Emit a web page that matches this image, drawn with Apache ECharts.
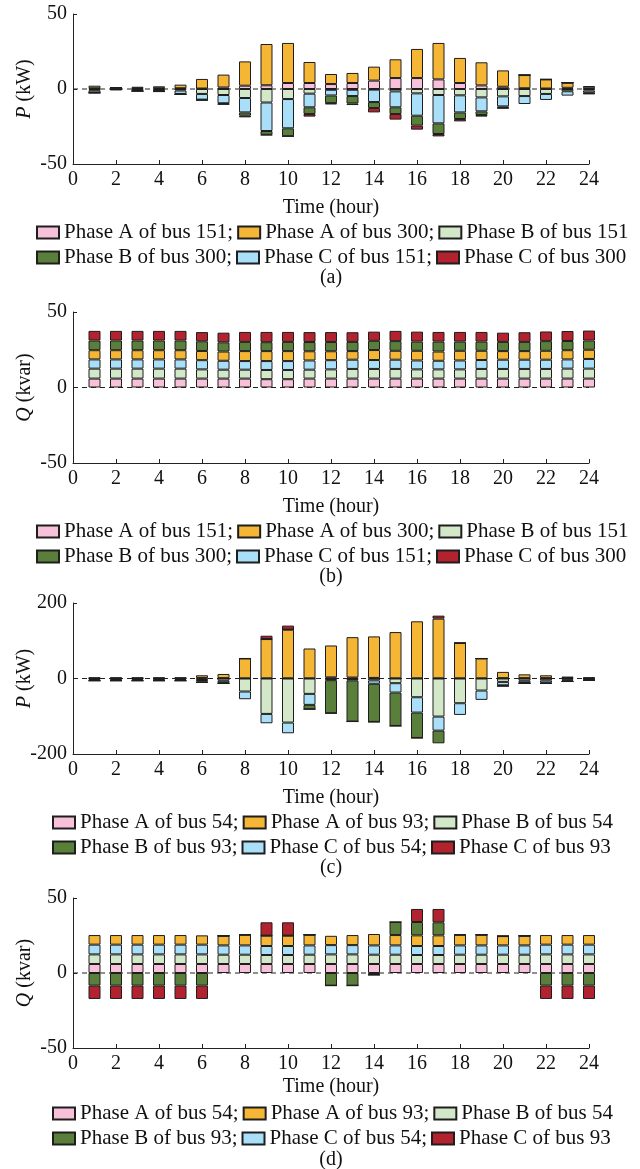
<!DOCTYPE html>
<html>
<head>
<meta charset="utf-8">
<script src="https://cdn.jsdelivr.net/npm/echarts@6/dist/echarts.min.js"></script>
<style>
  html, body { margin: 0; padding: 0; background: #fff; }
  #chart { width: 640px; height: 1169px; }
</style>
</head>
<body>
<div id="chart"></div>
<script>
// x categories: hour 0 is only an axis position, bars sit at hours 1..24
const hourLabels = ['0', '1', '2', '3', '4', '5', '6', '7', '8', '9', '10', '11', '12', '13', '14', '15', '16', '17', '18', '19', '20', '21', '22', '23', '24']

// (a) active power, buses 151 / 300 (kW), hours 1..24
const aA151 = [0.5, 0.2, 0.5, 0.5, 0.5, 0.3, 1, 2.2, 2.5, 4, 4, 3.3, 4, 5.6, 7.3, 7.3, 6.4, 4, 2.4, 1.5, 0.5, 0.3, 0.8, 0.5]
const aB151 = [-0.8, -0.3, -0.5, -0.6, -1, -3.3, -4, -6, -9, -6.7, -3.1, -0.5, -0.5, -0.4, -1.6, -2.9, -4, -4.2, -5.6, -4.9, -4.7, -3.3, -1.5, -1]
const aC151 = [-1.5, -0.4, -0.7, -0.8, -2.3, -3.8, -5.5, -9.6, -19, -19.5, -9.1, -3.8, -4.2, -8.3, -10.6, -14.9, -18.9, -11.4, -9.3, -6.7, -5.3, -4, -2.9, -1.5]
const aA300 = [1.7, 0.8, 1, 1.3, 2.4, 6.4, 8.6, 16.2, 27.5, 26.7, 14, 6.7, 6.7, 9.3, 12.5, 19.4, 24.3, 16.7, 15.4, 10.9, 8.8, 6.1, 3.4, 1.5]
const aB300 = [-0.3, 0, -0.2, -0.3, -0.3, -0.3, -0.5, -2.2, -2.5, -5.3, -4.5, -5.1, -4.9, -4, -4.5, -6.6, -7.1, -4.4, -2.4, -1, 0, 0, 0, -0.5]
const aC300 = [0, 0, 0, 0, 0, 0, -0.3, -1.1, -0.3, 0, -1.7, -0.9, -1.1, -2.9, -3.7, -2.7, -1.6, -1.6, -1.1, -0.3, 0, 0, 0, -0.3]

// (b) reactive power, buses 151 / 300 (kvar)
const bA151 = [5.9, 5.9, 5.9, 5.9, 5.9, 5.9, 5.9, 5.9, 5.5, 5.5, 5.9, 5.9, 5.9, 5.9, 5.9, 5.9, 5.9, 5.9, 5.9, 5.9, 5.9, 5.9, 5.9, 5.9]
const bB151 = [6.6, 6.6, 6.6, 6.6, 6.6, 6.1, 5.9, 5.9, 6.1, 6.1, 5.9, 6.1, 6.4, 6.4, 6.4, 6.1, 6.1, 6.1, 6.4, 6.4, 6.4, 6.4, 6.6, 6.6]
const bC151 = [6.1, 6.1, 6.1, 6.1, 6.1, 6.1, 5.9, 5.7, 5.9, 5.9, 6.1, 6.1, 6.1, 5.9, 6.1, 5.9, 5.7, 5.9, 5.9, 6.1, 6.1, 6.1, 6.1, 6.4]
const bA300 = [6.1, 6.1, 6.1, 6.1, 6.1, 6.1, 6.1, 6.6, 6.6, 6.6, 6.1, 5.9, 5.7, 6.6, 5.9, 6.4, 6.1, 6.4, 6.1, 5.7, 5.7, 5.9, 6.1, 6.1]
const bB300 = [6.4, 6.4, 6.4, 6.4, 6.4, 6.4, 6.1, 6.1, 5.9, 6.1, 6.1, 6.1, 6.1, 6.1, 6.4, 6.1, 6.6, 6.1, 6.1, 6.1, 6.1, 6.4, 6.1, 6.1]
const bC300 = [6.4, 6.4, 6.4, 6.4, 6.4, 6.1, 6.4, 6.6, 6.8, 6.6, 6.6, 6.6, 6.4, 6.1, 6.8, 6.6, 6.4, 6.4, 6.4, 6.1, 6.4, 6.4, 6.6, 6.6]

// (c) active power, buses 54 / 93 (kW)
const cA54 = [0.8, 0.8, 0.8, 0.8, 0.8, 1.5, 1, 0.5, 0.5, 0.5, 0.5, 3, 2.5, 1.5, 0.5, 0.5, 0.5, 0.5, 0.5, 1, 1, 1, 1.5, 1]
const cB54 = [-2, -2, -2, -2, -2, -4, -6, -34.5, -93.8, -116.8, -40.7, -2, -1.5, -5, -12.4, -49.6, -100.9, -65.5, -31.9, -9, -6, -5, -3, -2]
const cC54 = [-2.5, -2.5, -2.5, -2.5, -2.5, -4, -5.5, -20.4, -24.8, -28.3, -29.2, -2.5, -3.5, -9, -24.8, -40.7, -37.2, -31, -24.7, -9, -6, -6, -3, -2]
const cA93 = [1.6, 1.6, 1.6, 1.6, 1.6, 7, 11, 52.5, 104, 129, 79, 84.5, 107, 110, 122.5, 151, 158, 93.5, 52.5, 16.5, 10, 7.5, 3.5, 1.6]
const cB93 = [-1.5, -1.5, -1.5, -1.5, -1.5, -2.5, -1.5, 0, 0, 0, -11.5, -87.5, -109, -101, -88.5, -67.2, -33.6, 0, 0, -2, -1, -2, -2, -1.3]
const cC93 = [0, 0, 0, 0, 0, 0, 0, 0, 8.8, 10.6, 0, 0, 0, 0, 0, 0, 8, 0, 0, 0, 0, 0, 0, 0]

// (d) reactive power, buses 54 / 93 (kvar)
const dA54 = [6, 6, 6, 6, 6, 6, 6, 6, 6, 6, 6, 6, 6, 6, 6, 6, 6, 6, 6, 6, 6, 6, 6, 6]
const dB54 = [6.4, 6.4, 6.4, 6.4, 6.4, 6.4, 6.2, 6.2, 6, 6, 6.2, 6.4, 6.4, 6.2, 6.2, 6, 6, 6.2, 6.2, 6.2, 6.2, 6.4, 6.4, 6.4]
const dC54 = [6.5, 6.5, 6.5, 6.5, 6.5, 6.5, 6.2, 6.2, 6, 6, 6.2, 6.2, 6.2, 6.2, 6.2, 6, 6, 6.2, 6.2, 6.2, 6.2, 6.5, 6.5, 6.5]
const dA93 = [6.4, 6.4, 6.4, 6.4, 6.4, 6.2, 6.4, 7.1, 6.9, 6.9, 7.1, 6.2, 6.7, 7.6, 6.9, 7.1, 7.1, 7.1, 7.1, 6.2, 6.4, 6.4, 6.4, 6.4]
const dB93 = [-8.4, -8.4, -8.4, -8.4, -8.4, -8.4, 0, 0, 0, 0, 0, -8.4, -8.4, -1.3, 8.7, 8.9, 8.7, 0, 0, 0, 0, -8.4, -8.4, -8.4]
const dC93 = [-8.9, -8.9, -8.9, -8.9, -8.9, -8.9, 0, 0, 8.9, 8.9, 0, 0, 0, 0, 0, 8.7, 8.9, 0, 0, 0, 0, -8.9, -8.9, -8.9]

const FONT = '"Liberation Serif", "Times New Roman", serif'
const PINK = '#f7c1d9'
const ORANGE = '#f5b535'
const LGREEN = '#d2e8c9'
const DGREEN = '#5a7f3a'
const LBLUE = '#a9dff8'
const RED = '#b3222f'
const EDGE = '#1e1e1e'

// one entry per subplot, series listed in stacking order
const panels = [
  {
    top: 14, height: 150, range: 50, yName: 'P', unit: ' (kW)', tag: '(a)', legendLeft: 31,
    series: [
      ['Phase A of bus 151;', PINK, aA151],
      ['Phase B of bus 151', LGREEN, aB151],
      ['Phase C of bus 151;', LBLUE, aC151],
      ['Phase A of bus 300;', ORANGE, aA300],
      ['Phase B of bus 300;', DGREEN, aB300],
      ['Phase C of bus 300', RED, aC300],
    ],
  },
  {
    top: 312, height: 151, range: 50, yName: 'Q', unit: ' (kvar)', tag: '(b)', legendLeft: 31,
    series: [
      ['Phase A of bus 151;', PINK, bA151],
      ['Phase B of bus 151', LGREEN, bB151],
      ['Phase C of bus 151;', LBLUE, bC151],
      ['Phase A of bus 300;', ORANGE, bA300],
      ['Phase B of bus 300;', DGREEN, bB300],
      ['Phase C of bus 300', RED, bC300],
    ],
  },
  {
    top: 603, height: 151, range: 200, yName: 'P', unit: ' (kW)', tag: '(c)', legendLeft: 47,
    series: [
      ['Phase A of bus 54;', PINK, cA54],
      ['Phase B of bus 54', LGREEN, cB54],
      ['Phase C of bus 54;', LBLUE, cC54],
      ['Phase A of bus 93;', ORANGE, cA93],
      ['Phase B of bus 93;', DGREEN, cB93],
      ['Phase C of bus 93', RED, cC93],
    ],
  },
  {
    top: 898, height: 150, range: 50, yName: 'Q', unit: ' (kvar)', tag: '(d)', legendLeft: 47, compact: true,
    series: [
      ['Phase A of bus 54;', PINK, dA54],
      ['Phase B of bus 54', LGREEN, dB54],
      ['Phase C of bus 54;', LBLUE, dC54],
      ['Phase A of bus 93;', ORANGE, dA93],
      ['Phase B of bus 93;', DGREEN, dB93],
      ['Phase C of bus 93', RED, dC93],
    ],
  },
]

// legend reads row by row: A bus1, A bus2, B bus1 / B bus2, C bus1, C bus2
const legendOrder = [0, 3, 1, 4, 2, 5]

function buildOption() {
  const grid = [], xAxis = [], yAxis = [], legend = [], series = [], graphic = []

  panels.forEach((p, i) => {
    const bottom = p.top + p.height
    grid.push({ left: 73, right: 51, top: p.top, height: p.height })

    xAxis.push({
      type: 'category', gridIndex: i, data: hourLabels, boundaryGap: false,
      name: 'Time (hour)', nameLocation: 'middle', nameGap: p.compact ? 29 : 34,
      nameMoveOverlap: false,
      nameTextStyle: { fontFamily: FONT, fontSize: 20, color: '#111' },
      axisLine: { onZero: false, lineStyle: { color: '#222', width: 1 } },
      axisTick: { inside: true, length: 4, interval: 1, lineStyle: { color: '#222' } },
      axisLabel: { fontFamily: FONT, fontSize: 20, color: '#111', margin: 6, interval: 1 },
      splitLine: { show: false },
    })

    yAxis.push({
      type: 'value', gridIndex: i, min: -p.range, max: p.range, interval: p.range,
      name: '{i|' + p.yName + '}' + p.unit, nameLocation: 'middle', nameGap: 38,
      nameMoveOverlap: false,
      nameTextStyle: {
        fontFamily: FONT, fontSize: 20, color: '#111',
        rich: { i: { fontFamily: FONT, fontSize: 20, fontStyle: 'italic', color: '#111' } },
      },
      axisLine: { show: true, lineStyle: { color: '#222', width: 1 } },
      axisTick: { show: true, inside: true, length: 4, lineStyle: { color: '#222' } },
      axisLabel: { fontFamily: FONT, fontSize: 20, color: '#111', margin: 6 },
      splitLine: { show: false },
    })

    legend.push({
      left: p.legendLeft, top: bottom + (p.compact ? 50 : 53), width: 610,
      itemWidth: 22, itemHeight: 12, itemGap: 4, icon: 'rect',
      textStyle: { fontFamily: FONT, fontSize: 21, color: '#111', lineHeight: 21 },
      data: legendOrder.map(k => p.series[k][0]),
      selectedMode: false,
    })

    p.series.forEach(([name, color, values]) => {
      series.push({
        name, type: 'bar', xAxisIndex: i, yAxisIndex: i, stack: 'p' + i,
        barWidth: 12, z: 3,
        itemStyle: { color, borderColor: EDGE, borderWidth: 1 },
        data: [null].concat(values),
      })
    })

    series.push({
      type: 'line', xAxisIndex: i, yAxisIndex: i, z: 1, silent: true,
      symbol: 'none',
      lineStyle: { color: '#222', width: 1, type: [5, 4] },
      data: hourLabels.map(() => 0),
    })

    graphic.push({
      type: 'text', x: 331, y: bottom + (p.compact ? 112 : 114),
      style: {
        text: p.tag, font: '20px ' + FONT, fill: '#111',
        textAlign: 'center', textVerticalAlign: 'middle',
      },
    })
  })

  return { animation: false, grid, xAxis, yAxis, legend, series, graphic }
}

const chart = echarts.init(document.getElementById('chart'))
chart.setOption(buildOption())
</script>
</body>
</html>
